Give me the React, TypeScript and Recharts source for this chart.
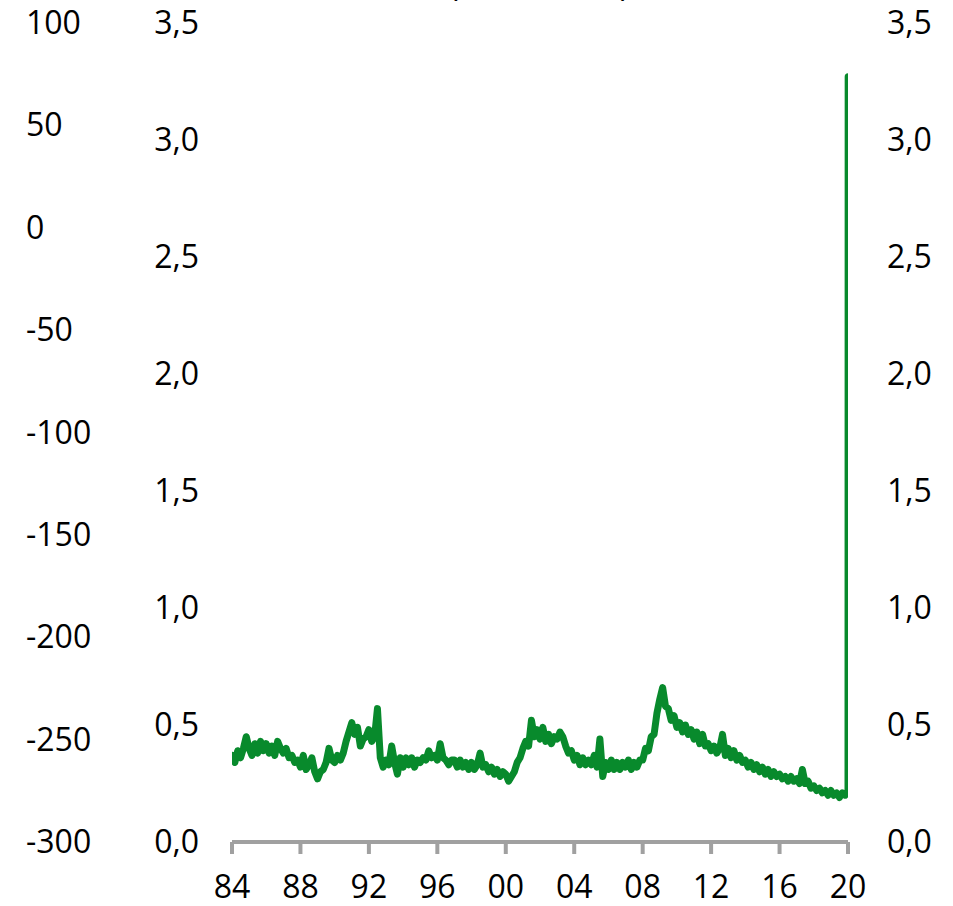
import React from "react";
import { LineChart, Line, XAxis, YAxis } from "recharts";

const START_YEAR = 1984;
const PERIODS_PER_YEAR = 6;
const claims1984to1991 = [
  0.37, 0.34, 0.39, 0.36, 0.40, 0.45,
  0.40, 0.37, 0.42, 0.38, 0.43, 0.39,
  0.42, 0.38, 0.41, 0.37, 0.43, 0.40,
  0.38, 0.40, 0.36, 0.37, 0.34, 0.35,
  0.32, 0.37, 0.31, 0.33, 0.36, 0.30,
  0.27, 0.30, 0.31, 0.34, 0.40, 0.35,
  0.34, 0.37, 0.35, 0.38, 0.43, 0.47,
  0.51, 0.46, 0.49, 0.41, 0.44, 0.45,
];
const claims1992to1999 = [
  0.48, 0.43, 0.45, 0.57, 0.36, 0.32,
  0.35, 0.33, 0.41, 0.34, 0.29, 0.36,
  0.32, 0.36, 0.33, 0.36, 0.32, 0.35,
  0.34, 0.36, 0.35, 0.39, 0.36, 0.37,
  0.35, 0.42, 0.36, 0.35, 0.33, 0.35,
  0.35, 0.32, 0.35, 0.32, 0.34, 0.31,
  0.34, 0.31, 0.33, 0.38, 0.32, 0.33,
  0.30, 0.32, 0.29, 0.31, 0.28, 0.30,
];
const claims2000to2009 = [
  0.29, 0.26, 0.28, 0.30, 0.34, 0.36,
  0.40, 0.43, 0.41, 0.52, 0.45, 0.48,
  0.44, 0.49, 0.43, 0.46, 0.42, 0.45,
  0.44, 0.47, 0.45, 0.41, 0.38, 0.39,
  0.35, 0.37, 0.33, 0.36, 0.33, 0.35,
  0.33, 0.37, 0.32, 0.44, 0.28, 0.34,
  0.31, 0.35, 0.31, 0.34, 0.31, 0.34,
  0.32, 0.35, 0.31, 0.34, 0.32, 0.35,
  0.35, 0.40, 0.39, 0.45, 0.46, 0.55,
  0.61, 0.66, 0.58, 0.57, 0.52, 0.54,
];
const claims2010to2019 = [
  0.49, 0.51, 0.47, 0.50, 0.46, 0.48,
  0.44, 0.47, 0.42, 0.46, 0.41, 0.42,
  0.39, 0.41, 0.38, 0.40, 0.46, 0.37,
  0.40, 0.36, 0.39, 0.35, 0.37, 0.34,
  0.35, 0.32, 0.34, 0.31, 0.33, 0.30,
  0.32, 0.29, 0.31, 0.28, 0.30, 0.28,
  0.29, 0.27, 0.28, 0.26, 0.28, 0.26,
  0.27, 0.25, 0.31, 0.25, 0.26, 0.23,
  0.24, 0.22, 0.23, 0.21, 0.22, 0.20,
  0.22, 0.20, 0.21, 0.19, 0.21, 0.20,
];
// March 2020 surge
const finalYears = [2019.97, 2020.0, 2020.01];
const finalValues = [0.21, 0.22, 3.27];

const xTicks = [1984, 1988, 1992, 1996, 2000, 2004, 2008, 2012, 2016, 2020];
const leftTicks = [-300, -250, -200, -150, -100, -50, 0, 50, 100];
const pctTicks = [0, 0.5, 1.0, 1.5, 2.0, 2.5, 3.0, 3.5];

const allClaims = [
  ...claims1984to1991,
  ...claims1992to1999,
  ...claims2000to2009,
  ...claims2010to2019,
];
const data = [
  ...allClaims.map((v, i) => ({ t: START_YEAR + i / PERIODS_PER_YEAR, v })),
  ...finalYears.map((t, i) => ({ t, v: finalValues[i] })),
];

const FONT = "'Open Sans', 'Liberation Sans', sans-serif";
const FS = 32;
const GREEN = "#088A2C";
const GREY = "#A0A0A0";

const fmtPct = (v: number) => v.toFixed(1).replace(".", ",");

const LeftTick = (props: any) => (
  <text x={26} y={props.y} dy={11} textAnchor="start" fontFamily={FONT} fontSize={FS} fill="#000">
    {props.payload.value}
  </text>
);
const PctTick = (props: any) => (
  <text x={199} y={props.y} dy={11} textAnchor="end" fontFamily={FONT} fontSize={FS} fill="#000">
    {fmtPct(props.payload.value)}
  </text>
);
const RightTick = (props: any) => (
  <text x={887} y={props.y} dy={11} textAnchor="start" fontFamily={FONT} fontSize={FS} fill="#000">
    {fmtPct(props.payload.value)}
  </text>
);
const XTick = (props: any) => (
  <text x={props.x} y={898} textAnchor="middle" fontFamily={FONT} fontSize={FS} fill="#000">
    {String(props.payload.value % 100).padStart(2, "0")}
  </text>
);

export default function App() {
  return (
    <div style={{ position: "absolute", left: 0, top: 0, width: 953, height: 906, background: "#fff" }}>
      <LineChart
        width={953}
        height={906}
        data={data}
        margin={{ top: 23, right: 0, bottom: 0, left: 0 }}
      >
        <XAxis
          dataKey="t"
          type="number"
          domain={[1984, 2020]}
          allowDataOverflow
          ticks={xTicks}
          interval={0}
          height={64}
          axisLine={{ stroke: GREY, strokeWidth: 4 }}
          tickLine={{ stroke: GREY, strokeWidth: 4 }}
          tickSize={12}
          tick={<XTick />}
        />
        <YAxis
          yAxisId="left"
          orientation="left"
          type="number"
          domain={[-300, 100]}
          allowDataOverflow
          ticks={leftTicks}
          interval={0}
          width={116}
          axisLine={false}
          tickLine={false}
          tick={<LeftTick />}
        />
        <YAxis
          yAxisId="pct"
          orientation="left"
          type="number"
          domain={[0, 3.5]}
          ticks={pctTicks}
          interval={0}
          width={116}
          axisLine={false}
          tickLine={false}
          tick={<PctTick />}
        />
        <YAxis
          yAxisId="right"
          orientation="right"
          type="number"
          domain={[0, 3.5]}
          allowDataOverflow
          ticks={pctTicks}
          interval={0}
          width={105}
          axisLine={false}
          tickLine={false}
          tick={<RightTick />}
        />
        <Line
          yAxisId="left"
          dataKey="v"
          stroke="none"
          dot={false}
          activeDot={false}
          legendType="none"
          isAnimationActive={false}
        />
        <Line
          yAxisId="right"
          dataKey="v"
          stroke="none"
          dot={false}
          activeDot={false}
          legendType="none"
          isAnimationActive={false}
        />
        <Line
          yAxisId="pct"
          dataKey="v"
          type="linear"
          stroke={GREEN}
          strokeWidth={7}
          dot={false}
          isAnimationActive={false}
          strokeLinejoin="round"
          strokeLinecap="round"
        />
      </LineChart>
      <svg width={953} height={906} style={{ position: "absolute", left: 0, top: 0, pointerEvents: "none" }}>
        <text x={449} y={-4} fontFamily={FONT} fontSize={FS} fill="#000">(</text>
        <text x={620} y={-4} fontFamily={FONT} fontSize={FS} fill="#000">)</text>
      </svg>
    </div>
  );
}
